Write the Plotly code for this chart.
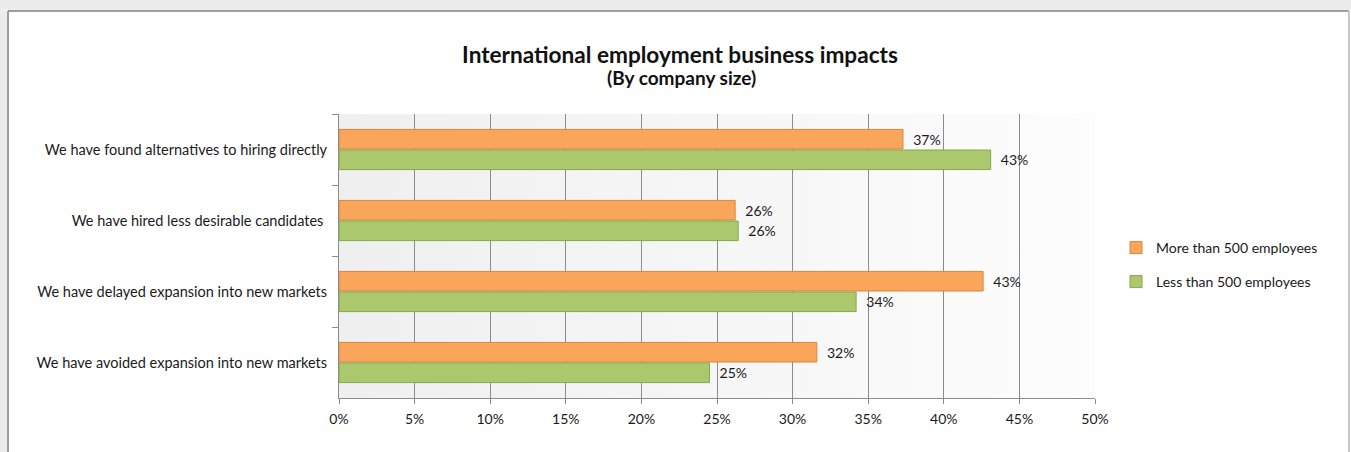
import base64
import plotly.graph_objects as go

# Survey answers (top to bottom) and share of respondents per company size
categories = [
    "We have found alternatives to hiring directly",
    "We have hired less desirable candidates ",
    "We have delayed expansion into new markets",
    "We have avoided expansion into new markets",
]
more_than_500 = [0.373, 0.262, 0.426, 0.316]
less_than_500 = [0.431, 0.264, 0.342, 0.245]

series_names = ["More than 500 employees", "Less than 500 employees"]
x_ticks = [0, 0.05, 0.10, 0.15, 0.20, 0.25, 0.30, 0.35, 0.40, 0.45, 0.50]

title_text = "International employment business impacts"
subtitle_text = "(By company size)"

FONT = "Lato, Calibri, Carlito, sans-serif"
TXT = "#1a1a1a"

W, H = 1351, 452
L, R, T, B = 339, 256, 114, 54

# soft left-to-right gradient used as the plotting area background
grad_svg = (
    '<svg xmlns="http://www.w3.org/2000/svg" width="100" height="100" preserveAspectRatio="none">'
    '<defs><linearGradient id="g" x1="0" y1="0" x2="1" y2="0">'
    '<stop offset="0" stop-color="#efefef"/><stop offset="1" stop-color="#fdfdfd"/>'
    '</linearGradient></defs><rect width="100" height="100" fill="url(#g)"/></svg>'
)
grad_uri = "data:image/svg+xml;base64," + base64.b64encode(grad_svg.encode()).decode()

fig = go.Figure()
fig.add_trace(go.Bar(
    y=categories, x=more_than_500, orientation="h", name=series_names[0],
    marker=dict(color="#F9A65A", line=dict(color="#D9853E", width=1)),
    texttemplate="  %{x:.0%}", textposition="outside", cliponaxis=False,
    textfont=dict(family=FONT, size=14, color=TXT),
    legend="legend",
))
fig.add_trace(go.Bar(
    y=categories, x=less_than_500, orientation="h", name=series_names[1],
    marker=dict(color="#ABC96C", line=dict(color="#86A64C", width=1)),
    texttemplate="  %{x:.0%}", textposition="outside", cliponaxis=False,
    textfont=dict(family=FONT, size=14, color=TXT),
    legend="legend2",
))


def px_x(p):
    return (p - L) / (W - L - R)


def px_y(p):
    return (H - B - p) / (H - T - B)


shapes = [
    # chart frame with a light drop-shadow band on the top and left
    dict(type="rect", xref="paper", yref="paper", layer="below",
         x0=px_x(0), x1=px_x(W), y0=px_y(0), y1=px_y(10),
         fillcolor="#ececec", line=dict(width=0)),
    dict(type="rect", xref="paper", yref="paper", layer="below",
         x0=px_x(0), x1=px_x(7), y0=px_y(0), y1=px_y(H),
         fillcolor="#ececec", line=dict(width=0)),
    dict(type="line", xref="paper", yref="paper",
         x0=px_x(8), x1=px_x(1349), y0=px_y(11), y1=px_y(11),
         line=dict(color="#7f7f7f", width=1.5)),
    dict(type="line", xref="paper", yref="paper",
         x0=px_x(8), x1=px_x(8), y0=px_y(11), y1=px_y(H + 5),
         line=dict(color="#7f7f7f", width=1.5)),
    dict(type="line", xref="paper", yref="paper",
         x0=px_x(1349), x1=px_x(1349), y0=px_y(11), y1=px_y(H + 5),
         line=dict(color="#c8c8c8", width=2)),
]

legend_common = dict(
    xanchor="left", yanchor="middle", bgcolor="rgba(0,0,0,0)",
    font=dict(family=FONT, size=14, color=TXT),
    itemwidth=30, traceorder="normal", visible=True,
)

fig.update_layout(
    width=W, height=H,
    margin=dict(l=L, r=R, t=T, b=B, pad=0),
    paper_bgcolor="white",
    plot_bgcolor="rgba(0,0,0,0)",
    showlegend=True,
    barmode="group", bargap=0.42, bargroupgap=0.05,
    title=dict(
        text=f"<b>{title_text}</b>",
        x=680 / W, xref="container", xanchor="center",
        y=(H - 55) / H, yref="container", yanchor="middle",
        font=dict(family=FONT, size=22.6, color="#111111"),
    ),
    annotations=[dict(
        text=f"<b>{subtitle_text}</b>", showarrow=False,
        xref="paper", yref="paper", x=px_x(681), y=px_y(77),
        xanchor="center", yanchor="middle",
        font=dict(family=FONT, size=19, color="#111111"),
    )],
    legend=dict(x=px_x(1116), y=px_y(248), **legend_common),
    legend2=dict(x=px_x(1116), y=px_y(282), **legend_common),
    xaxis=dict(
        range=[0, 0.5], tickvals=x_ticks, tickformat=".0%",
        showgrid=True, gridcolor="#8c8c8c", gridwidth=1,
        showline=True, linecolor="#8c8c8c", linewidth=1,
        ticks="outside", ticklen=5, tickcolor="#8c8c8c",
        ticklabelstandoff=3,
        tickfont=dict(family=FONT, size=14, color=TXT),
        zeroline=False, fixedrange=True,
    ),
    yaxis=dict(
        autorange="reversed", tickson="boundaries",
        showgrid=False, showline=True, linecolor="#8c8c8c", linewidth=1,
        ticks="outside", ticklen=6, tickcolor="#8c8c8c",
        ticklabelstandoff=8,
        tickfont=dict(family=FONT, size=14.5, color=TXT),
        fixedrange=True,
    ),
    images=[dict(
        source=grad_uri, xref="paper", yref="paper", x=0, y=1,
        sizex=1, sizey=1, xanchor="left", yanchor="top",
        sizing="stretch", layer="below",
    )],
    shapes=shapes,
)

fig.write_html("out.html")
